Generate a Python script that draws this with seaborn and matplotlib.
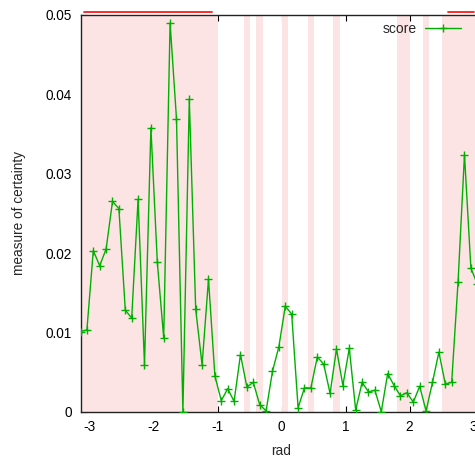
import numpy as np
import pandas as pd
import matplotlib
matplotlib.use("Agg")
import matplotlib.pyplot as plt
import seaborn as sns

sns.set_theme(style="ticks")
plt.rcParams['font.family'] = ['Liberation Sans', 'DejaVu Sans']
plt.rcParams['axes.unicode_minus'] = False

# x grid: -pi to pi in steps of 0.1 rad
rad = np.arange(-np.pi, np.pi, 0.1)
score = [0.0101, 0.0103, 0.0203, 0.0184, 0.0205, 0.0265, 0.0256, 0.0128, 0.0118, 0.0268,
         0.0059, 0.0358, 0.0189, 0.0093, 0.0490, 0.0369, 0.0000, 0.0394, 0.0129, 0.0059,
         0.0167, 0.0045, 0.0014, 0.0029, 0.0013, 0.0072, 0.0031, 0.0037, 0.0009, 0.0001,
         0.0051, 0.0082, 0.0133, 0.0123, 0.0005, 0.0030, 0.0030, 0.0069, 0.0060, 0.0023,
         0.0079, 0.0033, 0.0080, 0.0002, 0.0037, 0.0025, 0.0027, 0.0000, 0.0048, 0.0033,
         0.0020, 0.0024, 0.0012, 0.0032, 0.0001, 0.0037, 0.0075, 0.0035, 0.0037, 0.0164,
         0.0324, 0.0181, 0.0161]

# runs of highlighted samples (first index, last index)
runs = [(0, 21), (26, 26), (28, 28), (32, 32), (36, 36), (40, 40), (50, 51), (54, 54), (57, 62)]

xticks = [-3, -2, -1, 0, 1, 2, 3]
yticks = [0, 0.01, 0.02, 0.03, 0.04, 0.05]
ytick_labels = ["0", "0.01", "0.02", "0.03", "0.04", "0.05"]

df = pd.DataFrame({"rad": rad, "score": score})

fig = plt.figure(figsize=(4.75, 4.59), dpi=100)
ax = fig.add_axes([80.5 / 475, 47.3 / 459, 402.1 / 475, 396.7 / 459])

half = 0.05
for a, b in runs:
    ax.axvspan(rad[a] - half, rad[b] + half, color="#fde4e4", lw=0, zorder=2.6)
    if b > a:
        ax.plot([rad[a] + half, rad[b] - half], [0.0504, 0.0504], color="#ff1a1a",
                lw=1.3, clip_on=False, zorder=4)

sns.lineplot(data=df, x="rad", y="score", ax=ax, color="#00b000", lw=1.0,
             marker="+", markersize=6, markeredgewidth=1.0, markeredgecolor="#00b000",
             label="score", zorder=5, legend=False)

ax.set_xlim(-np.pi, np.pi)
ax.set_ylim(0, 0.05)
ax.set_xticks(xticks)
ax.set_xticklabels([str(t) for t in xticks])
ax.set_yticks(yticks)
ax.set_yticklabels(ytick_labels)
ax.tick_params(direction="in", length=4, width=0.8, top=True, right=True,
               labelsize=9.8, colors="black", pad=6)
for s in ax.spines.values():
    s.set_zorder(3)
    s.set_linewidth(1.0)
    s.set_color("#222222")

ax.set_xlabel("rad", fontsize=9.8, labelpad=7)
ax.set_ylabel("measure of certainty", fontsize=9.8, labelpad=14)

handles, labels = ax.get_legend_handles_labels()
ax.legend(handles, labels, loc="center right", bbox_to_anchor=(461 / 475, 1 - 29 / 459),
          bbox_transform=fig.transFigure, frameon=False, markerfirst=False,
          handlelength=2.6, handletextpad=0.6, fontsize=10, borderpad=0, borderaxespad=0)

fig.savefig("out.png", dpi=100)
